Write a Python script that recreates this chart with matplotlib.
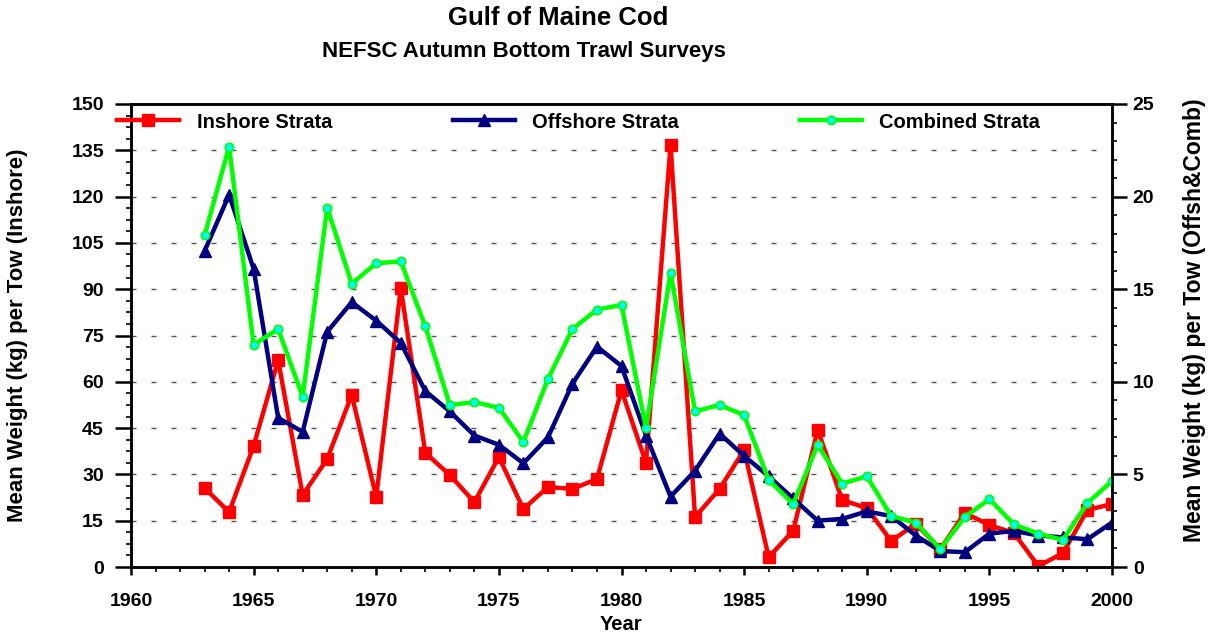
import matplotlib
matplotlib.use("Agg")
import matplotlib.pyplot as plt
from matplotlib.ticker import MultipleLocator

plt.rcParams['font.family'] = ['Liberation Sans', 'DejaVu Sans']
plt.rcParams['font.weight'] = 'bold'

years = list(range(1963, 2001))

# Inshore strata, left axis (kg per tow)
inshore = [25.6, 17.8, 39.2, 67.0, 23.3, 35.0, 55.7, 22.7, 90.4, 37.0,
           29.8, 21.0, 35.6, 18.8, 25.9, 25.3, 28.5, 57.3, 33.7, 136.7,
           16.2, 25.3, 37.9, 3.2, 11.7, 44.4, 21.7, 19.1, 8.4, 14.0,
           5.8, 17.5, 13.6, 11.0, 0.3, 4.5, 18.5, 20.4]

# Offshore and combined strata, right axis
offshore = [17.06, 20.1, 16.1, 8.05, 7.3, 12.7, 14.3, 13.3, 12.1, 9.5,
            8.4, 7.1, 6.6, 5.6, 7.0, 9.9, 11.9, 10.85, 7.1, 3.8,
            5.2, 7.2, 6.0, 4.9, 3.7, 2.5, 2.6, 3.0, 2.75, 1.7,
            0.86, 0.8, 1.8, 1.95, 1.7, 1.6, 1.5, 2.4]

combined = [17.9, 22.7, 12.0, 12.85, 9.2, 19.4, 15.3, 16.4, 16.5, 13.0,
            8.75, 8.9, 8.6, 6.75, 10.15, 12.85, 13.9, 14.15, 7.5, 15.9,
            8.4, 8.75, 8.2, 4.7, 3.4, 6.6, 4.5, 4.9, 2.75, 2.4,
            0.97, 2.7, 3.67, 2.3, 1.8, 1.46, 3.46, 4.64]

fig = plt.figure(figsize=(12.15, 6.36), dpi=100)
ax = fig.add_axes([131/1215, 1-567/636, (1112-131)/1215, (567-104)/636])
ax2 = ax.twinx()

# dashed grid
for v in range(15, 150, 15):
    ax.axhline(v, color='#555555', lw=1, ls=(0, (3.6, 10.8)), zorder=0)

l1, = ax.plot(years, inshore, color='#ff0000', lw=3.2, marker='s', ms=8,
              mfc='#ff0000', mec='#ff0000', label='Inshore Strata')
l2, = ax2.plot(years, offshore, color='#000080', lw=3.2, marker='^', ms=8,
               mfc='#000080', mec='#000080', label='Offshore Strata')
l3, = ax2.plot(years, combined, color='#00ff00', lw=3.2, marker='o', ms=6,
               mfc='#00ffff', mec='#00ff00', mew=1.2, label='Combined Strata')

ax.set_xlim(1960, 2000)
ax.set_ylim(0, 150)
ax2.set_ylim(0, 25)

ax.xaxis.set_major_locator(MultipleLocator(5))
ax.xaxis.set_minor_locator(MultipleLocator(1))
ax.yaxis.set_major_locator(MultipleLocator(15))
ax.yaxis.set_minor_locator(MultipleLocator(3.75))
ax2.yaxis.set_major_locator(MultipleLocator(5))
ax2.yaxis.set_minor_locator(MultipleLocator(1))

for a in (ax, ax2):
    for s in a.spines.values():
        s.set_linewidth(1.8)
    a.tick_params(which='major', width=1.8, labelsize=14, direction='out')
    a.tick_params(which='minor', length=3.5, width=1.2, direction='out')
ax.tick_params(axis='x', which='major', length=6, pad=13)
ax.tick_params(axis='y', which='major', length=11.5, pad=8)
ax2.tick_params(axis='y', which='major', length=11, pad=4)
for lab in ax.get_xticklabels() + ax.get_yticklabels() + ax2.get_yticklabels():
    lab.set_fontweight('bold')

fig.text(621/1215, 1-624/636, 'Year', ha='center', va='center', fontsize=14.5, fontweight='bold')
fig.text(18/1215, 1-335/636, 'Mean Weight (kg) per Tow (Inshore)', rotation=90,
         ha='center', va='center', fontsize=16, fontweight='bold')
fig.text(1195/1215, 1-320/636, 'Mean Weight (kg) per Tow (Offsh&Comb)', rotation=90,
         ha='center', va='center', fontsize=16.5, fontweight='bold')

fig.text(558/1215, 1-18/636, 'Gulf of Maine Cod', ha='center', va='center', fontsize=18.5, fontweight='bold')
fig.text(524/1215, 1-52/636, 'NEFSC Autumn Bottom Trawl Surveys', ha='center', va='center', fontsize=16, fontweight='bold')

fig.legend(handles=[l1, l2, l3], loc='center left', bbox_to_anchor=(117/1215, 1-122/636),
           ncol=3, frameon=False, fontsize=14.5, handlelength=3.1, handletextpad=0.85,
           columnspacing=6.0, borderpad=0, borderaxespad=0)

fig.savefig('out.png', dpi=100)
